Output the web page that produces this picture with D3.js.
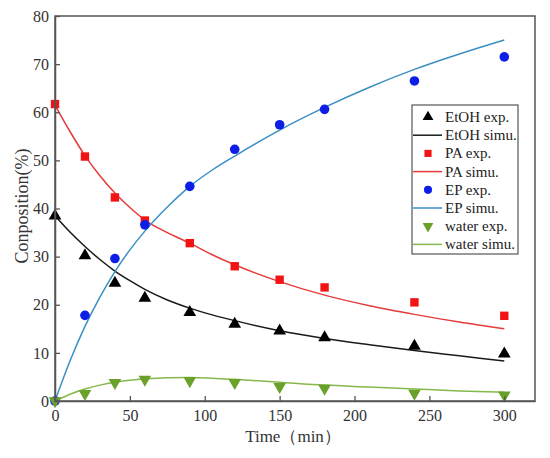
<!DOCTYPE html>
<html><head><meta charset="utf-8">
<script src="https://cdn.jsdelivr.net/npm/d3@7/dist/d3.min.js"></script>
<style>body{margin:0;background:#fff}svg{display:block}</style>
</head><body>
<svg id="c" width="550" height="458"></svg>
<script>
// Experimental times
const expTime = [0, 20, 40, 60, 90, 120, 150, 180, 240, 300];
const etohExp  = [38.5, 30.2, 24.5, 21.4, 18.4, 16.0, 14.6, 13.2, 11.4, 9.8];
const paExp    = [61.7, 50.8, 42.3, 37.5, 32.8, 28.0, 25.2, 23.6, 20.5, 17.7];
const epExp    = [0.0, 17.8, 29.6, 36.6, 44.6, 52.3, 57.4, 60.6, 66.5, 71.5];
const waterExp = [0.0, 1.5, 3.8, 4.5, 4.2, 3.8, 3.0, 2.6, 1.6, 1.2];

// Simulation curves
const simTime   = [0, 10, 20, 30, 40, 50, 60, 75, 90, 105, 120, 150, 180, 210, 240, 270, 300];
const etohSim   = [38.5, 35.1, 32.1, 29.4, 27.0, 25.0, 23.2, 21.0, 19.3, 17.9, 16.7, 14.6, 13.0, 11.7, 10.5, 9.4, 8.3];
const paSim     = [61.5, 56.0, 51.0, 46.8, 43.2, 40.2, 37.6, 35.0, 32.8, 30.4, 28.3, 24.8, 22.0, 19.8, 18.0, 16.4, 15.0];
const epSim     = [0.0, 8.3, 15.5, 21.6, 26.9, 31.4, 35.3, 40.3, 44.6, 48.0, 50.9, 56.3, 61.0, 65.2, 68.9, 72.1, 75.0];
const waterSim  = [0.0, 1.4, 2.5, 3.3, 3.9, 4.3, 4.6, 4.85, 4.9, 4.75, 4.5, 3.9, 3.3, 2.9, 2.5, 2.1, 1.8];

const xTicks = [0, 50, 100, 150, 200, 250, 300];
const yTicks = [0, 10, 20, 30, 40, 50, 60, 70, 80];
const legendLabels = ["EtOH exp.", "EtOH simu.", "PA exp.", "PA simu.", "EP exp.", "EP simu.", "water exp.", "water simu."];

const svg = d3.select("#c");
const L = 55, R = 535, T = 16, B = 401;
const x = d3.scaleLinear().domain([0, 320.5]).range([L, R]);
const y = d3.scaleLinear().domain([0, 80]).range([B, T]);
const axisCol = "#555";
const font = "Liberation Serif";

const series = [
  {exp: etohExp, sim: etohSim, mColor: "#000000", lColor: "#1a1a1a", sym: "up"},
  {exp: paExp, sim: paSim, mColor: "#f21414", lColor: "#e53b3b", sym: "sq"},
  {exp: epExp, sim: epSim, mColor: "#0d1ee6", lColor: "#3a8fc4", sym: "ci"},
  {exp: waterExp, sim: waterSim, mColor: "#6aa12a", lColor: "#85b84a", sym: "dn"}
];

function drawSym(g, type, color, cx, cy, s) {
  s = s || 1;
  if (type === "sq") {
    g.append("rect").attr("x", cx - 4.2*s).attr("y", cy - 4.2*s).attr("width", 8.4*s).attr("height", 8.4*s).attr("fill", color);
  } else if (type === "ci") {
    g.append("circle").attr("cx", cx).attr("cy", cy).attr("r", 4.8*s).attr("fill", color);
  } else {
    const p = d3.symbol().type(d3.symbolTriangle).size(70*s*s)();
    g.append("path").attr("d", p).attr("fill", color)
      .attr("transform", `translate(${cx},${cy})` + (type === "dn" ? " rotate(180)" : ""));
  }
}

// lines
const line = d3.line().curve(d3.curveMonotoneX);
series.forEach(s => {
  svg.append("path")
    .attr("d", line(simTime.map((t, i) => [x(t), y(s.sim[i])])))
    .attr("fill", "none").attr("stroke", s.lColor).attr("stroke-width", 1.5);
});
// markers
series.forEach(s => {
  const g = svg.append("g");
  expTime.forEach((t, i) => drawSym(g, s.sym, s.mColor, x(t), y(s.exp[i])));
});

// frame
svg.append("rect").attr("x", L).attr("y", T).attr("width", R - L).attr("height", B - T)
  .attr("fill", "none").attr("stroke", axisCol).attr("stroke-width", 1.5);

// axes
const xa = svg.append("g").attr("transform", `translate(0,${B})`)
  .call(d3.axisBottom(x).tickValues(xTicks).tickSizeInner(-5).tickSizeOuter(0).tickPadding(9));
const ya = svg.append("g").attr("transform", `translate(${L},0)`)
  .call(d3.axisLeft(y).tickValues(yTicks).tickSizeInner(-5).tickSizeOuter(0).tickPadding(6));
[xa, ya].forEach(a => {
  a.attr("font-family", font);
  a.select(".domain").attr("stroke", axisCol).attr("stroke-width", 1.5);
  a.selectAll(".tick line").attr("stroke", axisCol).attr("stroke-width", 1.3);
  a.selectAll(".tick text").attr("font-family", font).attr("font-size", 16).attr("fill", "#333");
});

svg.append("text").attr("x", 293).attr("y", 442).attr("text-anchor", "middle")
  .attr("font-family", font).attr("font-size", 17).attr("fill", "#333").text("Time（min）");
svg.append("text").attr("transform", "translate(28,206) rotate(-90)").attr("text-anchor", "middle")
  .attr("font-family", font).attr("font-size", 18).attr("fill", "#333").text("Conposition(%)");

// legend
const lg = svg.append("g");
lg.append("rect").attr("x", 412).attr("y", 105).attr("width", 106).attr("height", 149)
  .attr("fill", "#fff").attr("stroke", axisCol).attr("stroke-width", 1.2);
legendLabels.forEach((lab, i) => {
  const yy = 117 + i * 18.2;
  const s = series[Math.floor(i / 2)];
  if (i % 2 === 0) {
    drawSym(lg, s.sym, s.mColor, 428, yy, 0.85);
  } else {
    lg.append("line").attr("x1", 413).attr("x2", 442).attr("y1", yy).attr("y2", yy)
      .attr("stroke", s.lColor).attr("stroke-width", 1.5);
  }
  lg.append("text").attr("x", 445).attr("y", yy + 5).attr("font-family", font)
    .attr("font-size", 15).attr("fill", "#222").text(lab);
});
</script>
</body></html>
